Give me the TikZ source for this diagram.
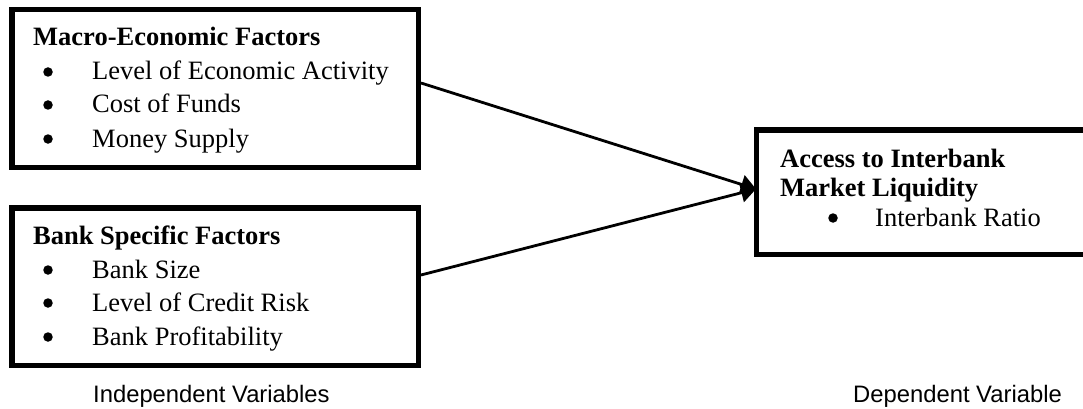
\documentclass[tikz,border=0pt]{standalone}
\usepackage{fontspec}
\setmainfont{Liberation Serif}
\setsansfont{Liberation Sans}
\usetikzlibrary{arrows.meta}

\tikzset{
  factorbox/.style={draw=black, line width=5.5pt, fill=white, inner sep=0pt, rectangle},
  head/.style={anchor=base west, inner sep=0pt, font=\fontsize{26.5}{30}\selectfont\bfseries},
  item/.style={anchor=base west, inner sep=0pt, font=\fontsize{26.5}{30}\selectfont},
  dot/.style={circle, fill=black, inner sep=0pt, minimum size=9.5pt},
  caption/.style={anchor=base west, inner sep=0pt, font=\fontsize{23.8}{28}\selectfont\sffamily},
  link/.style={draw=black, line width=2.8pt, -{Triangle[length=15pt,width=19pt]}}
}

\begin{document}
\begin{tikzpicture}[x=1pt,y=-1pt]
  \clip (0,0) rectangle (1083,409);
  \fill[white] (0,0) rectangle (1083,409);

  % the three boxes
  \node[factorbox, minimum width=406.5pt, minimum height=157.5pt] (macro) at (215,88.5) {};
  \node[factorbox, minimum width=406.5pt, minimum height=157.5pt] (bank) at (215,286.5) {};
  \node[factorbox, minimum width=330pt, minimum height=124.5pt] (dep) at (921.5,192) {};

  % macro-economic factors
  \node[head] (macro-h) at (33,46) {Macro-Economic Factors};
  \node[dot] (macro-d1) at (48,72) {};
  \node[item] (macro-i1) at (92,80) {Level of Economic Activity};
  \node[dot] (macro-d2) at (48,105) {};
  \node[item] (macro-i2) at (92,113) {Cost of Funds};
  \node[dot] (macro-d3) at (48,139) {};
  \node[item] (macro-i3) at (92,147) {Money Supply};

  % bank specific factors
  \node[head] (bank-h) at (33,244) {Bank Specific Factors};
  \node[dot] (bank-d1) at (48,270) {};
  \node[item] (bank-i1) at (92,278) {Bank Size};
  \node[dot] (bank-d2) at (48,303) {};
  \node[item] (bank-i2) at (92,311) {Level of Credit Risk};
  \node[dot] (bank-d3) at (48,337) {};
  \node[item] (bank-i3) at (92,345) {Bank Profitability};

  % dependent variable
  \node[head] (dep-h1) at (780,167) {Access to Interbank};
  \node[head] (dep-h2) at (780,196) {Market Liquidity};
  \node[dot] (dep-d1) at (833,218) {};
  \node[item] (dep-i1) at (875,226) {Interbank Ratio};

  % connectors
  \coordinate (macro-out) at (421,83);
  \coordinate (bank-out) at (421,275);
  \coordinate (dep-in) at (756,189);
  \draw[link] (macro-out) -- (dep-in);
  \draw[link] (bank-out) -- (dep-in);

  % captions
  \node[caption] (indep) at (93,402) {Independent Variables};
  \node[caption] (depcap) at (853,402) {Dependent Variable};
\end{tikzpicture}
\end{document}
